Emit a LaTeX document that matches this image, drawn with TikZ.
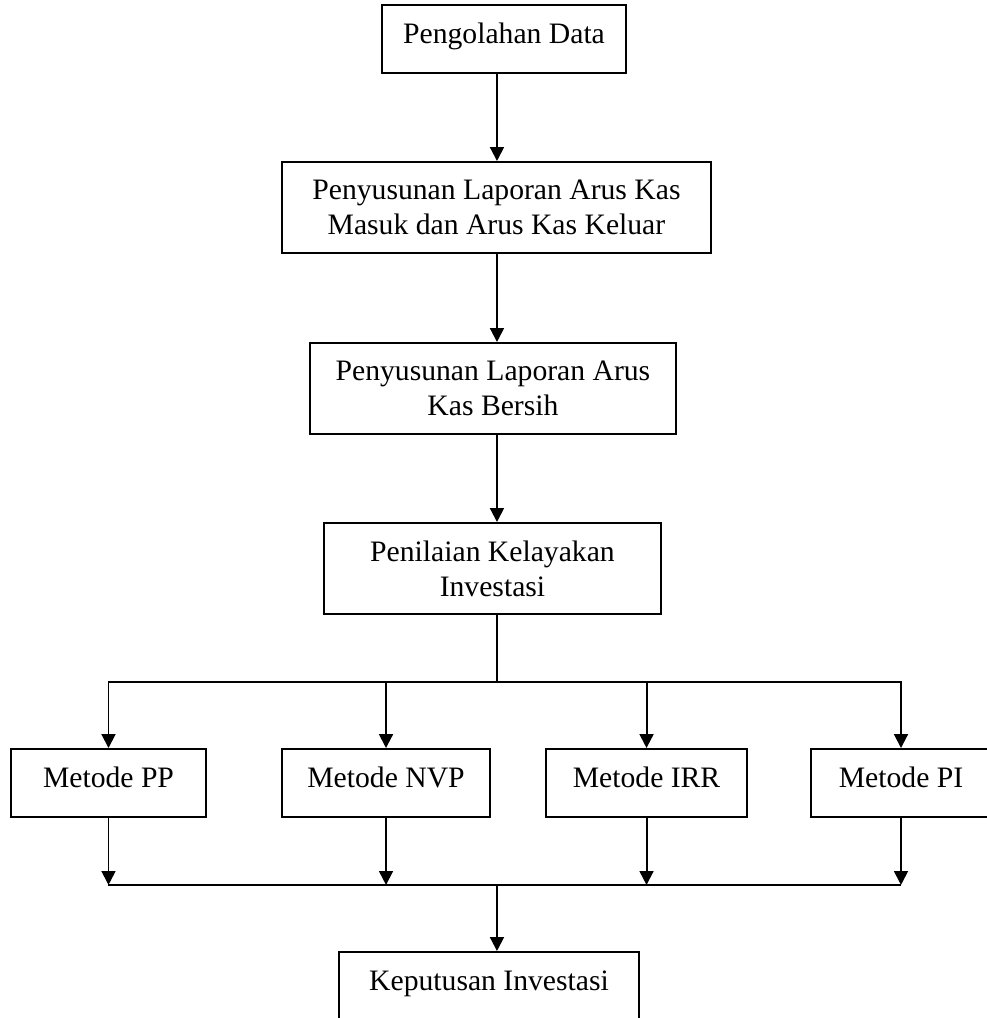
\documentclass[tikz,border=0pt]{standalone}
\usepackage{fontspec}
\setmainfont{Liberation Serif}
\usepackage{tikz}
\usetikzlibrary{arrows.meta, positioning}

\begin{document}
\begin{tikzpicture}[x=1cm, y=1cm,
  box/.style={draw=black, line width=0.8pt, fill=white, inner sep=2pt,
    font=\fontsize{12}{14.2}\selectfont},
  onebox/.style={box, minimum height=0.967cm, text height=8pt, text depth=4.76pt},
  twobox/.style={box, minimum height=1.294cm, align=center},
  arr/.style={line width=0.8pt, -{Triangle[length=5.6pt, width=5.6pt]}},
  bus/.style={line width=0.8pt}]

%% Background
\fill[white] (0,0) rectangle (14.037,14.478);
\useasboundingbox (0,0) rectangle (14.037,14.478);

%% ── Main chain ──────────────────────────────────────────────────────────
\node[onebox, minimum width=3.470cm] (data) at (7.168,13.923) {Pengolahan Data};
\node[twobox, minimum width=6.101cm] (aruskas) at (7.061,11.527)
  {Penyusunan Laporan Arus Kas\\Masuk dan Arus Kas Keluar};
\node[twobox, minimum width=5.205cm] (bersih) at (7.011,8.953)
  {Penyusunan Laporan Arus\\Kas Bersih};
\node[twobox, minimum width=4.793cm] (nilai) at (7.004,6.393)
  {Penilaian Kelayakan\\Investasi};

%% ── Methods ─────────────────────────────────────────────────────────────
\coordinate (split) at (7.068,4.779);
\node[onebox, minimum width=2.773cm] (mpp) at (1.543,3.342) {Metode PP};
\node[onebox, minimum width=2.958cm] (mnvp) at (5.490,3.342) {Metode NVP};
\node[onebox, minimum width=2.859cm] (mirr) at (9.195,3.342) {Metode IRR};
\node[onebox, minimum width=2.560cm] (mpi) at (12.814,3.342) {Metode PI};

%% ── Decision ────────────────────────────────────────────────────────────
\coordinate (merge) at (7.068,1.892);
\node[onebox, minimum width=4.267cm] (putusan) at (6.955,0.455) {Keputusan Investasi};

%% Connectors
\draw[arr] (data.south -| split) -- (aruskas.north -| split);
\draw[arr] (aruskas.south -| split) -- (bersih.north -| split);
\draw[arr] (bersih.south -| split) -- (nilai.north -| split);
\draw[bus] (nilai.south -| split) -- (split);
\foreach \m in {mpp, mnvp, mirr, mpi}
  \draw[arr] (split) -| (\m);
\foreach \m in {mpp, mnvp, mirr, mpi}
  \draw[arr] (\m) -- (\m |- merge);
\draw[bus] (mpp |- merge) -- (mpi |- merge);
\draw[arr] (merge) -- (putusan.north -| merge);

\end{tikzpicture}
\end{document}
